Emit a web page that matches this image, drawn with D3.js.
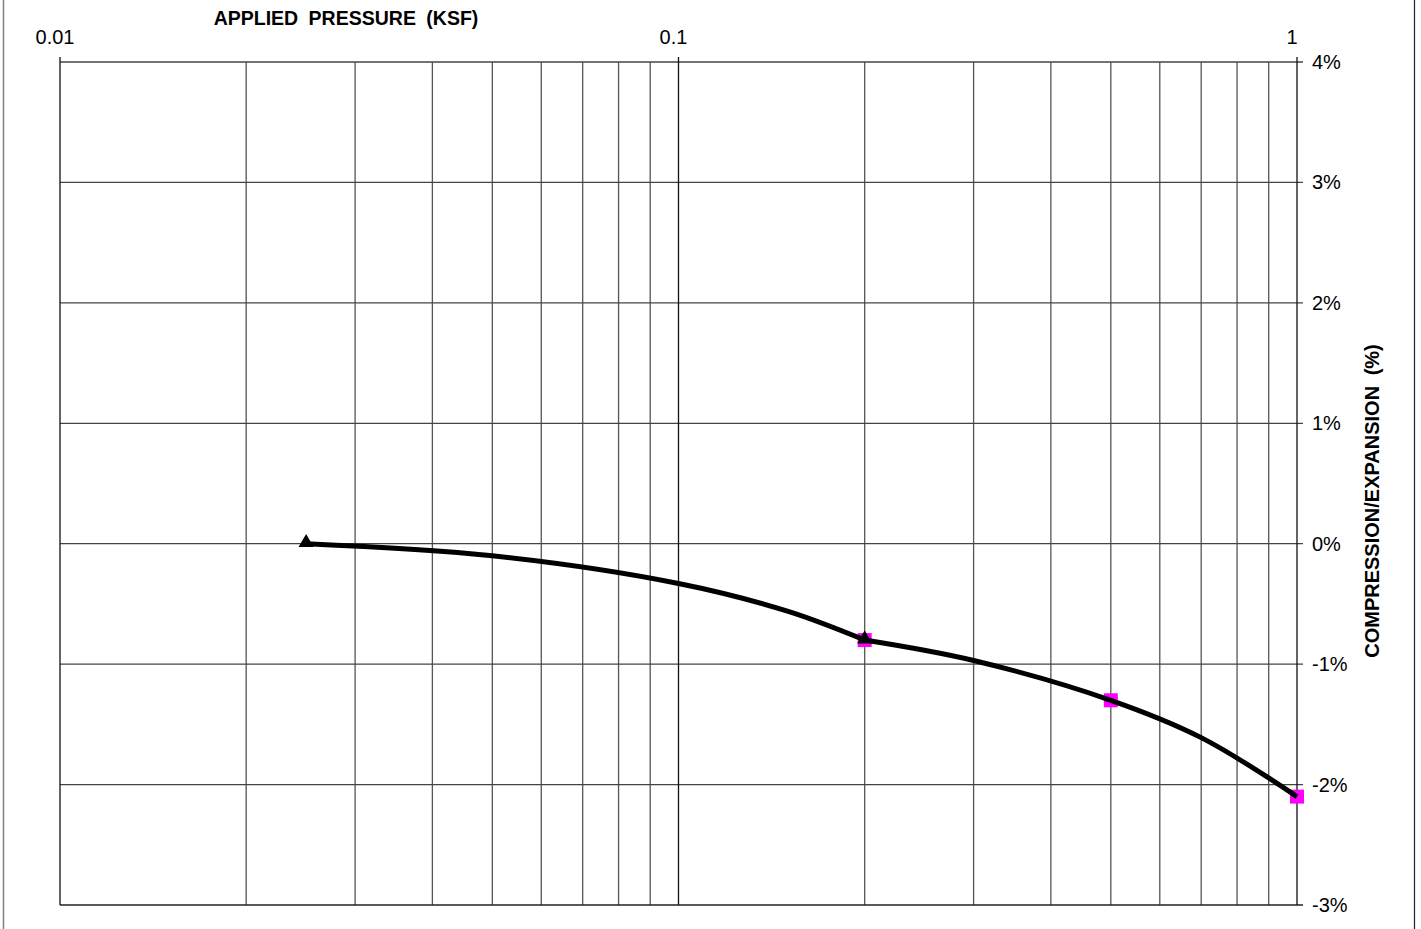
<!DOCTYPE html>
<html>
<head>
<meta charset="utf-8">
<script src="https://cdn.jsdelivr.net/npm/d3@7"></script>
<style>
  body { margin: 0; background: #fff; }
  svg { display: block; font-family: Arial, "Liberation Sans", sans-serif; }
</style>
</head>
<body>
<div id="chart"></div>
<script>
let width = 1421, height = 929;
let margin = {left: 60, top: 62, right: 1297, bottom: 905};

// data
let trianglePressure = [0.025, 0.2];
let triangleStrain = [0, -0.8];
let squarePressure = [0.2, 0.5, 1.0];
let squareStrain = [-0.8, -1.30, -2.10];
// smooth curve drawn through the points
let curvePressure = [0.025, 0.05, 0.1, 0.15, 0.2];
let curveStrain = [0, -0.10, -0.33, -0.56, -0.80];
let curve2Pressure = [0.2, 0.3, 0.5, 0.7, 1.0];
let curve2Strain = [-0.80, -0.97, -1.30, -1.61, -2.10];

let xMajor = [0.01, 0.1, 1];
let xLabels = ["0.01", "0.1", "1"];
let yTicks = [4, 3, 2, 1, 0, -1, -2, -3];

let svg = d3.select("#chart")
    .append("svg")
    .attr("width", width)
    .attr("height", height);

let x = d3.scaleLog().domain([0.01, 1]).range([margin.left, margin.right]);
let y = d3.scaleLinear().domain([-3, 4]).range([margin.bottom, margin.top]);

// outer frame (only the sides show)
svg.append("line").attr("x1", 3.5).attr("x2", 3.5).attr("y1", 0).attr("y2", height)
    .attr("stroke", "#808080").attr("stroke-width", 1.5);
svg.append("line").attr("x1", 1414.5).attr("x2", 1414.5).attr("y1", 0).attr("y2", height)
    .attr("stroke", "#222").attr("stroke-width", 1.2);

// minor vertical gridlines
let minor = [];
[0.01, 0.1].forEach(function(d) {
    for (let i = 2; i <= 9; i++) minor.push(d * i);
});

svg.append("g").selectAll("line")
    .data(minor)
    .enter().append("line")
    .attr("x1", function(d) { return x(d); })
    .attr("x2", function(d) { return x(d); })
    .attr("y1", margin.top)
    .attr("y2", margin.bottom)
    .attr("stroke", "#555")
    .attr("stroke-width", 1.3);

// horizontal gridlines
svg.append("g").selectAll("line")
    .data(yTicks)
    .enter().append("line")
    .attr("x1", margin.left)
    .attr("x2", margin.right + 6)
    .attr("y1", function(d) { return y(d); })
    .attr("y2", function(d) { return y(d); })
    .attr("stroke", function(d) { return d == -3 ? "#222" : "#444"; })
    .attr("stroke-width", 1.3);

// major vertical lines with ticks above the top
svg.append("g").selectAll("line")
    .data(xMajor)
    .enter().append("line")
    .attr("x1", function(d) { return x(d); })
    .attr("x2", function(d) { return x(d); })
    .attr("y1", margin.top - 5)
    .attr("y2", margin.bottom)
    .attr("stroke", "#111")
    .attr("stroke-width", 1.3);

// x tick labels on top
svg.append("g").selectAll("text")
    .data(xMajor)
    .enter().append("text")
    .attr("x", function(d) { return x(d) - 5; })
    .attr("y", 44)
    .attr("text-anchor", "middle")
    .style("font-size", "20px")
    .text(function(d, i) { return xLabels[i]; });

// y tick labels on the right
svg.append("g").selectAll("text")
    .data(yTicks)
    .enter().append("text")
    .attr("x", margin.right + 15)
    .attr("y", function(d) { return y(d); })
    .attr("dy", "0.35em")
    .style("font-size", "20px")
    .text(function(d) { return d + "%"; });

// axis titles
svg.append("text")
    .attr("x", 346)
    .attr("y", 25)
    .attr("text-anchor", "middle")
    .style("font-size", "19.5px")
    .style("font-weight", "bold")
    .style("word-spacing", "5px")
    .text("APPLIED PRESSURE (KSF)");

svg.append("text")
    .attr("transform", "translate(1379,501) rotate(-90)")
    .attr("text-anchor", "middle")
    .style("font-size", "20px")
    .style("font-weight", "bold")
    .style("word-spacing", "5px")
    .text("COMPRESSION/EXPANSION (%)");

// markers
let squares = squarePressure.map(function(p, i) { return {p: p, s: squareStrain[i]}; });
let triangles = trianglePressure.map(function(p, i) { return {p: p, s: triangleStrain[i]}; });

svg.append("g").selectAll("rect")
    .data(squares)
    .enter().append("rect")
    .attr("x", function(d) { return x(d.p) - 7; })
    .attr("y", function(d) { return y(d.s) - 7; })
    .attr("width", 14)
    .attr("height", 14)
    .attr("fill", "#ff00ff");

svg.append("g").selectAll("path")
    .data(triangles)
    .enter().append("path")
    .attr("d", d3.symbol().type(d3.symbolTriangle).size(100))
    .attr("transform", function(d) { return "translate(" + x(d.p) + "," + (y(d.s) - 1) + ")"; })
    .attr("fill", "#000");

// curve
let line = d3.line()
    .x(function(d) { return x(d.p); })
    .y(function(d) { return y(d.s); })
    .curve(d3.curveCatmullRom);

[[curvePressure, curveStrain], [curve2Pressure, curve2Strain]].forEach(function(c) {
    let pts = c[0].map(function(p, i) { return {p: p, s: c[1][i]}; });
    svg.append("path")
        .datum(pts)
        .attr("d", line)
        .attr("fill", "none")
        .attr("stroke", "#000")
        .attr("stroke-width", 5)
        .attr("stroke-linecap", "butt");
});
</script>
</body>
</html>
